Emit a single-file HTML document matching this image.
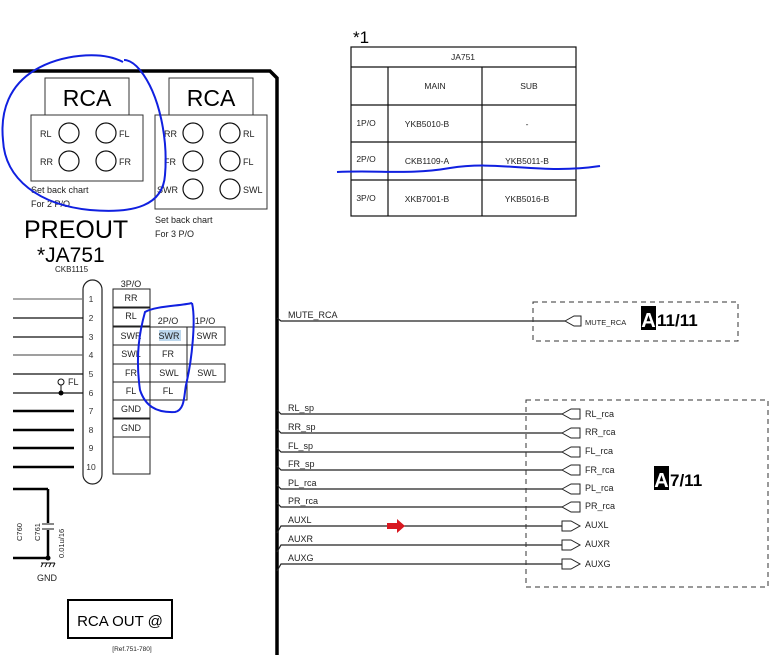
<!DOCTYPE html>
<html><head><meta charset="utf-8"><style>
html,body{margin:0;padding:0;background:#fff}
svg{display:block}
text{font-family:"Liberation Sans",sans-serif}
</style></head><body>
<svg width="770" height="655" viewBox="0 0 770 655" xmlns="http://www.w3.org/2000/svg" fill="#222">
<!-- main frame -->
<path d="M13 71 L270 71 L277 78 L277 655" fill="none" stroke="#000" stroke-width="3.5"/>

<!-- RCA box 1 -->
<rect x="45" y="78" width="84" height="37" fill="none" stroke="#333" stroke-width="1"/>
<text x="87" y="106" font-size="23" text-anchor="middle" style="fill:#000">RCA</text>
<rect x="31" y="115" width="112" height="66" fill="none" stroke="#333" stroke-width="1"/>
<g fill="none" stroke="#111" stroke-width="1.2">
<circle cx="69" cy="133" r="10"/><circle cx="106" cy="133" r="10"/>
<circle cx="69" cy="161" r="10"/><circle cx="106" cy="161" r="10"/>
</g>
<g font-size="9" style="fill:#222">
<text x="40" y="137">RL</text><text x="119" y="137">FL</text>
<text x="40" y="165">RR</text><text x="119" y="165">FR</text>
<text x="31" y="193">Set back chart</text><text x="31" y="207">For 2 P/O</text>
</g>
<!-- RCA box 2 -->
<rect x="169" y="78" width="84" height="37" fill="none" stroke="#333" stroke-width="1"/>
<text x="211" y="106" font-size="23" text-anchor="middle" style="fill:#000">RCA</text>
<rect x="155" y="115" width="112" height="94" fill="none" stroke="#333" stroke-width="1"/>
<g fill="none" stroke="#111" stroke-width="1.2">
<circle cx="193" cy="133" r="10"/><circle cx="230" cy="133" r="10"/>
<circle cx="193" cy="161" r="10"/><circle cx="230" cy="161" r="10"/>
<circle cx="193" cy="189" r="10"/><circle cx="230" cy="189" r="10"/>
</g>
<g font-size="9" style="fill:#222">
<text x="164" y="137">RR</text><text x="243" y="137">RL</text>
<text x="164" y="165">FR</text><text x="243" y="165">FL</text>
<text x="157" y="193">SWR</text><text x="243" y="193">SWL</text>
<text x="155" y="223">Set back chart</text><text x="155" y="237">For 3 P/O</text>
</g>
<text x="24" y="238" font-size="25" style="fill:#000">PREOUT</text>
<text x="37" y="262" font-size="21" style="fill:#000">*JA751</text>
<text x="55" y="272" font-size="8" style="fill:#222">CKB1115</text>

<!-- table -->
<g fill="none" stroke="#111" stroke-width="1.2">
<rect x="351" y="47" width="225" height="169"/>
<line x1="351" y1="67" x2="576" y2="67"/>
<line x1="351" y1="105" x2="576" y2="105"/>
<line x1="351" y1="142" x2="576" y2="142"/>
<line x1="351" y1="180" x2="576" y2="180"/>
<line x1="388" y1="67" x2="388" y2="216"/>
<line x1="482" y1="67" x2="482" y2="216"/>
</g>
<text x="353" y="43" font-size="17" style="fill:#000">*1</text>
<g font-size="8.5" text-anchor="middle" style="fill:#222">
<text x="463" y="60">JA751</text>
<text x="435" y="89">MAIN</text><text x="529" y="89">SUB</text>
<text x="366" y="126">1P/O</text><text x="427" y="127">YKB5010-B</text><text x="527" y="127">-</text>
<text x="366" y="162">2P/O</text><text x="427" y="164">CKB1109-A</text><text x="527" y="164">YKB5011-B</text>
<text x="366" y="201">3P/O</text><text x="427" y="202">XKB7001-B</text><text x="527" y="202">YKB5016-B</text>
</g>

<!-- connector pill -->
<rect x="83" y="280" width="19" height="204" rx="9.5" fill="#fff" stroke="#222" stroke-width="1.2"/>
<g stroke="#111" stroke-width="1.2">
<line x1="13" y1="299" x2="83" y2="299" stroke="#777"/>
<line x1="13" y1="318" x2="83" y2="318"/>
<line x1="13" y1="337" x2="83" y2="337"/>
<line x1="13" y1="355" x2="83" y2="355" stroke="#666"/>
<line x1="13" y1="374" x2="83" y2="374"/>
<line x1="13" y1="393" x2="83" y2="393"/>
</g>
<g stroke="#000" stroke-width="2.5">
<line x1="13" y1="411" x2="74" y2="411"/>
<line x1="13" y1="430" x2="74" y2="430"/>
<line x1="13" y1="448" x2="74" y2="448"/>
<line x1="13" y1="467" x2="74" y2="467"/>
<line x1="13" y1="489" x2="48" y2="489"/>
<line x1="48" y1="489" x2="48" y2="523"/>
<line x1="48" y1="530" x2="48" y2="558"/>
<line x1="13" y1="558" x2="48" y2="558"/>
</g>
<g stroke="#111" stroke-width="1">
<line x1="42" y1="524" x2="54" y2="524"/><line x1="42" y1="529" x2="54" y2="529"/>
<line x1="41" y1="563" x2="55" y2="563"/><line x1="43" y1="563" x2="41" y2="567"/><line x1="47" y1="563" x2="45" y2="567"/><line x1="51" y1="563" x2="49" y2="567"/><line x1="55" y1="563" x2="53" y2="567"/>
<line x1="61" y1="385" x2="61" y2="393"/>
</g>
<circle cx="48" cy="558" r="2.5" fill="#000"/>
<circle cx="61" cy="382" r="3" fill="#fff" stroke="#111"/>
<circle cx="61" cy="393" r="2.5" fill="#000"/>
<g style="fill:#222">
<text x="68" y="385" font-size="9">FL</text>
<text x="47" y="581" font-size="9" text-anchor="middle">GND</text>
<g font-size="7.5">
<text transform="translate(22,541) rotate(-90)">C760</text>
<text transform="translate(40,541) rotate(-90)">C761</text>
<text transform="translate(64,558) rotate(-90)">0.01u/16</text>
</g>
</g>
<g font-size="8.5" text-anchor="middle" style="fill:#333">
<text x="91" y="302">1</text><text x="91" y="321">2</text><text x="91" y="340">3</text><text x="91" y="358">4</text><text x="91" y="377">5</text><text x="91" y="396">6</text><text x="91" y="414">7</text><text x="91" y="433">8</text><text x="91" y="451">9</text><text x="91" y="470">10</text>
</g>

<!-- pin tables -->
<rect x="113" y="289" width="37" height="185" fill="none" stroke="#222" stroke-width="1"/>
<g fill="none" stroke="#222" stroke-width="1">
<rect x="113" y="289" width="37" height="18"/>
<rect x="113" y="308" width="37" height="18"/>
<rect x="113" y="327" width="112" height="18"/>
<rect x="113" y="364" width="112" height="18"/>
<rect x="113" y="400" width="37" height="18"/>
<rect x="113" y="419" width="37" height="18"/>
<rect x="150" y="327" width="37" height="73"/>
</g>
<rect x="159" y="330" width="22" height="11" fill="#bcd8ee"/>
<g font-size="9" text-anchor="middle" style="fill:#222">
<text x="131" y="287">3P/O</text><text x="168" y="324">2P/O</text><text x="205" y="324">1P/O</text>
<text x="131" y="301">RR</text><text x="131" y="319">RL</text><text x="131" y="339">SWR</text><text x="131" y="357">SWL</text><text x="131" y="376">FR</text><text x="131" y="394">FL</text><text x="131" y="412">GND</text><text x="131" y="431">GND</text>
<text x="169" y="339">SWR</text><text x="168" y="357">FR</text><text x="169" y="376">SWL</text><text x="168" y="394">FL</text>
<text x="207" y="339">SWR</text><text x="207" y="376">SWL</text>
</g>

<!-- RCA OUT -->
<rect x="68" y="600" width="104" height="38" fill="none" stroke="#000" stroke-width="2"/>
<text x="120" y="626" font-size="15" text-anchor="middle" style="fill:#000">RCA OUT  @</text>
<text x="132" y="651" font-size="6.5" text-anchor="middle" style="fill:#222">[Ref.751-780]</text>

<!-- signals -->
<g stroke="#222" stroke-width="1.2" fill="none">
<path d="M277 318 L281 321 L565 321"/>
<path d="M277 410 L281 414 L562 414"/>
<path d="M277 429 L281 433 L562 433"/>
<path d="M277 448 L281 452 L562 452"/>
<path d="M277 466 L281 470 L562 470"/>
<path d="M277 485 L281 489 L562 489"/>
<path d="M277 503 L281 507 L562 507"/>
<path d="M277 533 L281 526 L562 526"/>
<path d="M277 552 L281 545 L562 545"/>
<path d="M277 571 L281 564 L562 564"/>
</g>
<g stroke="#222" stroke-width="1" fill="#fff">
<path d="M565 321 L574 316 L581 316 L581 326 L574 326 Z"/>
<path d="M562 414 L571 409 L580 409 L580 419 L571 419 Z"/>
<path d="M562 433 L571 428 L580 428 L580 438 L571 438 Z"/>
<path d="M562 452 L571 447 L580 447 L580 457 L571 457 Z"/>
<path d="M562 470 L571 465 L580 465 L580 475 L571 475 Z"/>
<path d="M562 489 L571 484 L580 484 L580 494 L571 494 Z"/>
<path d="M562 507 L571 502 L580 502 L580 512 L571 512 Z"/>
<path d="M562 521 L571 521 L580 526 L571 531 L562 531 Z"/>
<path d="M562 540 L571 540 L580 545 L571 550 L562 550 Z"/>
<path d="M562 559 L571 559 L580 564 L571 569 L562 569 Z"/>
</g>
<g fill="none" stroke="#333" stroke-width="1" stroke-dasharray="5,4">
<rect x="533" y="302" width="205" height="39"/>
<rect x="526" y="400" width="242" height="187"/>
</g>
<g font-size="9" style="fill:#222">
<text x="288" y="318">MUTE_RCA</text>
<text x="288" y="411">RL_sp</text><text x="288" y="430">RR_sp</text><text x="288" y="449">FL_sp</text><text x="288" y="467">FR_sp</text><text x="288" y="486">PL_rca</text><text x="288" y="504">PR_rca</text><text x="288" y="523">AUXL</text><text x="288" y="542">AUXR</text><text x="288" y="561">AUXG</text>
<text x="585" y="417">RL_rca</text><text x="585" y="435">RR_rca</text><text x="585" y="454">FL_rca</text><text x="585" y="473">FR_rca</text><text x="585" y="491">PL_rca</text><text x="585" y="509">PR_rca</text><text x="585" y="528">AUXL</text><text x="585" y="547">AUXR</text><text x="585" y="567">AUXG</text>
<text x="585" y="325" font-size="7.5">MUTE_RCA</text>
</g>
<rect x="641" y="306" width="15" height="24" fill="#000"/>
<text x="648.5" y="327" font-size="20" font-weight="bold" text-anchor="middle" style="fill:#fff">A</text>
<text x="657" y="326" font-size="17" font-weight="bold" style="fill:#000">11/11</text>
<rect x="654" y="466" width="15" height="24" fill="#000"/>
<text x="661.5" y="487" font-size="20" font-weight="bold" text-anchor="middle" style="fill:#fff">A</text>
<text x="670" y="486" font-size="17" font-weight="bold" style="fill:#000">7/11</text>

<!-- red arrow -->
<path d="M387 523 L397 523 L397 519 L405 526 L397 533 L397 529 L387 529 Z" fill="#d81820"/>

<!-- blue hand annotations -->
<g fill="none" stroke="#1020e0" stroke-width="2">
<path d="M123 62 C100 50 60 55 35 70 C10 85 0 110 3 140 C5 180 40 205 90 210 C135 214 163 205 165 175 C168 140 160 95 140 70 C135 64 130 60 124 60"/>
<path d="M337 172 C380 170 410 175 450 168 C500 160 540 175 600 166"/>
<path d="M192 303 C180 306 155 306 145 312 C140 330 135 355 140 390 C145 405 155 413 175 412 C185 410 184 395 186 385 C192 360 196 320 192 303"/>
</g>
</svg>
</body></html>
